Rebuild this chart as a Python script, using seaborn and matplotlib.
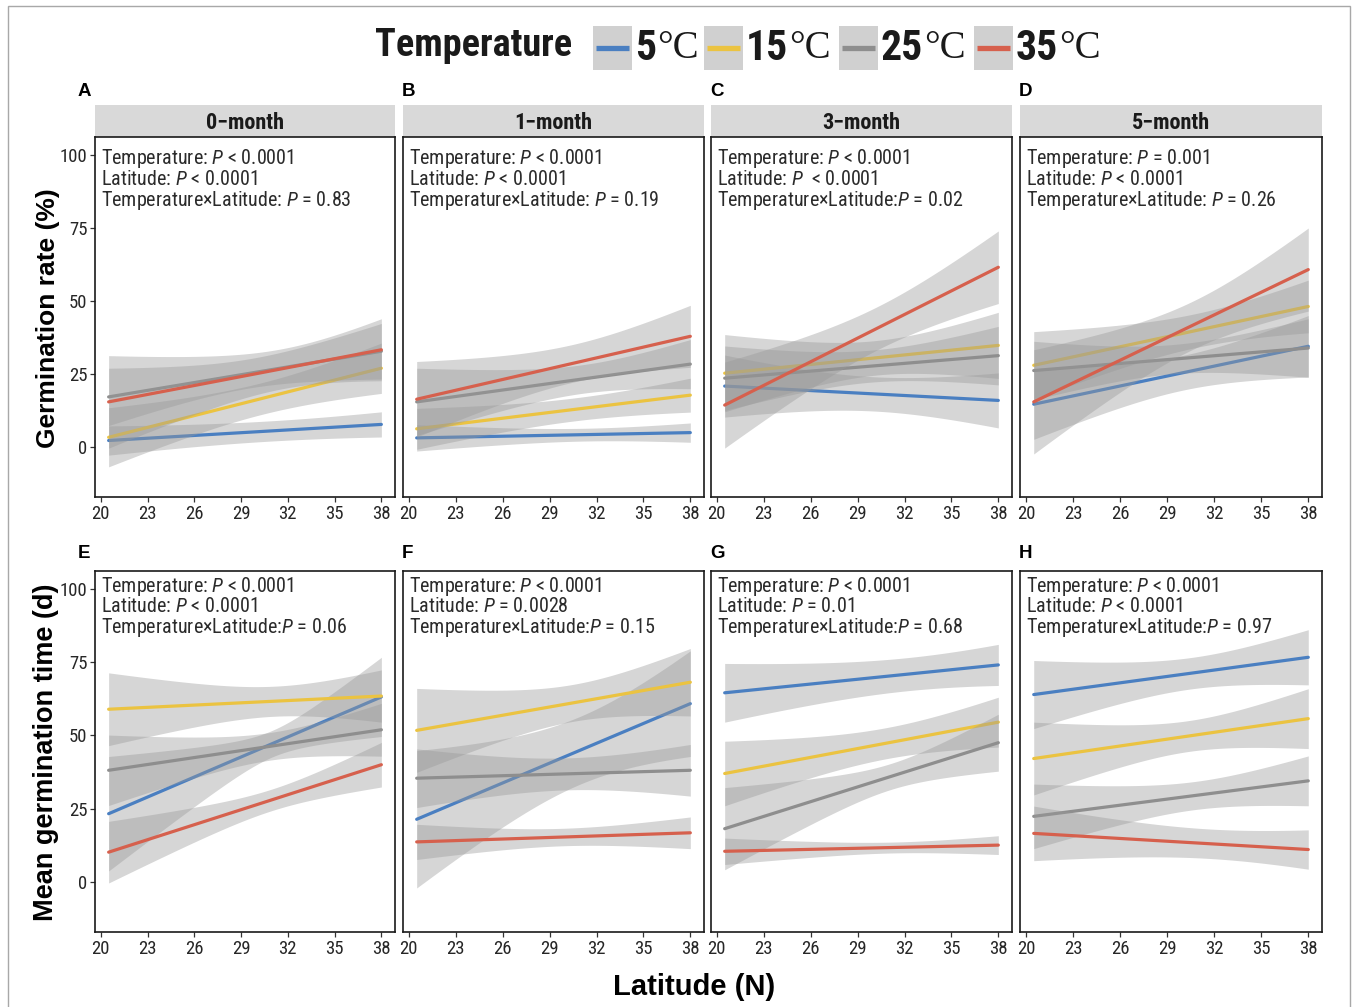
import numpy as np
import pandas as pd
import seaborn as sns
import matplotlib
matplotlib.use("Agg")
import matplotlib.pyplot as plt
from matplotlib.patches import Rectangle
from matplotlib.lines import Line2D
from matplotlib import font_manager as fm

# ---------------- data ----------------
months = ["0\u2212month", "1\u2212month", "3\u2212month", "5\u2212month"]
temps = ["5", "15", "25", "35"]
temp_colors = ["#4A7FC1", "#EBC341", "#8E8E8E", "#D6604D"]
panel_letters_top = ["A", "B", "C", "D"]
panel_letters_bot = ["E", "F", "G", "H"]
lat_min, lat_max = 20.5, 38.0
x_ticks = [20, 23, 26, 29, 32, 35, 38]
y_ticks = [0, 25, 50, 75, 100]

# Germination rate (%) : rows = month, cols = temperature (5,15,25,35)
rate_start = [[2.3, 3.4, 17.2, 15.5], [3.2, 6.3, 15.5, 16.4],
              [20.9, 25.3, 23.6, 14.4], [14.7, 28.0, 26.2, 15.5]]
rate_end = [[7.8, 27.0, 32.8, 33.3], [5.0, 17.8, 28.4, 37.9],
            [16.0, 34.8, 31.3, 61.5], [34.5, 48.1, 33.9, 60.7]]
rate_hw_start = [[5.0, 10.1, 9.8, 15.8], [4.5, 7.0, 11.5, 12.9],
                 [10.6, 13.2, 11.0, 14.7], [12.0, 11.5, 10.0, 17.8]]
rate_hw_mid = [[3.5, 5.5, 5.0, 7.5], [2.3, 4.0, 5.2, 6.6],
               [5.9, 6.0, 5.5, 7.5], [6.0, 6.0, 5.0, 8.5]]
rate_hw_end = [[4.3, 8.6, 9.5, 10.6], [3.3, 5.8, 8.4, 10.6],
               [9.4, 11.3, 10.0, 12.4], [10.5, 9.0, 10.0, 14.2]]

# Mean germination time (d)
time_start = [[23.3, 58.9, 38.1, 10.2], [21.4, 51.7, 35.4, 13.7],
              [64.5, 37.0, 18.2, 10.5], [63.9, 42.1, 22.4, 16.6]]
time_end = [[63.1, 63.4, 51.9, 40.0], [60.8, 68.1, 38.1, 16.8],
            [74.0, 54.5, 47.5, 12.6], [76.6, 55.7, 34.5, 11.1]]
time_hw_start = [[19.5, 12.4, 12.0, 10.5], [23.4, 14.3, 10.0, 6.0],
                 [10.0, 11.0, 14.0, 4.5], [11.6, 12.4, 11.0, 9.3]]
time_hw_mid = [[5.5, 5.5, 5.0, 4.0], [12.0, 6.5, 5.5, 3.0],
               [6.0, 5.5, 5.0, 2.0], [5.5, 5.4, 5.0, 5.3]]
time_hw_end = [[13.5, 8.9, 9.0, 7.6], [18.0, 11.5, 8.8, 5.4],
               [7.0, 8.5, 9.7, 3.2], [9.4, 10.2, 8.5, 6.7]]

rate_stats = [
    ["Temperature: $P$ < 0.0001", "Latitude: $P$ < 0.0001", "Temperature\u00d7Latitude: $P$ = 0.83"],
    ["Temperature: $P$ < 0.0001", "Latitude: $P$ < 0.0001", "Temperature\u00d7Latitude: $P$ = 0.19"],
    ["Temperature: $P$ < 0.0001", "Latitude: $P$  < 0.0001", "Temperature\u00d7Latitude:$P$ = 0.02"],
    ["Temperature: $P$ = 0.001", "Latitude: $P$ < 0.0001", "Temperature\u00d7Latitude: $P$ = 0.26"],
]
time_stats = [
    ["Temperature: $P$ < 0.0001", "Latitude: $P$ < 0.0001", "Temperature\u00d7Latitude:$P$ = 0.06"],
    ["Temperature: $P$ < 0.0001", "Latitude: $P$ = 0.0028", "Temperature\u00d7Latitude:$P$ = 0.15"],
    ["Temperature: $P$ < 0.0001", "Latitude: $P$ = 0.01", "Temperature\u00d7Latitude:$P$ = 0.68"],
    ["Temperature: $P$ < 0.0001", "Latitude: $P$ < 0.0001", "Temperature\u00d7Latitude:$P$ = 0.97"],
]

# ---------------- style ----------------
sns.set_theme(style="white")
names = {f.name for f in fm.fontManager.ttflist}
NARROW = "Liberation Sans"
for cand in ["Liberation Sans Narrow", "Roboto Condensed", "Open Sans Condensed"]:
    if cand in names:
        NARROW = cand
        break
IS_NARROW = NARROW != "Liberation Sans"
plt.rcParams["font.family"] = [NARROW, "DejaVu Sans"]
plt.rcParams["mathtext.fontset"] = "custom"
plt.rcParams["mathtext.rm"] = NARROW
plt.rcParams["mathtext.it"] = NARROW + ":italic"

fs_stats = 14.5 if IS_NARROW else 13
fs_tick = 13.5 if IS_NARROW else 11.5
fs_strip = 16 if IS_NARROW else 14
fs_title = 27.5 if IS_NARROW else 23.5

W, H = 1356, 1007
fig = plt.figure(figsize=(W / 100, H / 100), dpi=100)
fig.patch.set_facecolor("white")


def fbox(l, t, r, b):
    return [l / W, 1 - b / H, (r - l) / W, (b - t) / H]


cols_px = [(95, 395), (403, 704), (711, 1012), (1020, 1322)]
rows_px = [(137, 497), (571, 932)]
letter_x = [78, 402, 710, 1019]
letter_y = [91, 554]

# tidy frame of fitted lines
recs = []
for r, (st, en) in enumerate([(rate_start, rate_end), (time_start, time_end)]):
    for m in range(4):
        for t in range(4):
            recs.append(dict(row=r, month=months[m], temp=temps[t], lat=lat_min, value=st[m][t]))
            recs.append(dict(row=r, month=months[m], temp=temps[t], lat=lat_max, value=en[m][t]))
lines_df = pd.DataFrame(recs)

hw_sets = [(rate_hw_start, rate_hw_mid, rate_hw_end), (time_hw_start, time_hw_mid, time_hw_end)]
stats_sets = [rate_stats, time_stats]
grid = np.linspace(lat_min, lat_max, 120)
tt = (grid - lat_min) / (lat_max - lat_min)

for r, (top, bot) in enumerate(rows_px):
    for c, (left, right) in enumerate(cols_px):
        ax = fig.add_axes(fbox(left, top, right, bot))
        ax.set_facecolor("white")
        hs, hm, he = hw_sets[r]
        for t in range(4):
            sub = lines_df[(lines_df.row == r) & (lines_df.month == months[c]) & (lines_df.temp == temps[t])]
            yfit = np.interp(grid, sub.lat.values, sub.value.values)
            # confidence band of a linear fit: half-width^2 is quadratic in latitude
            a0, am, a1 = hs[c][t] ** 2, hm[c][t] ** 2, he[c][t] ** 2
            q = a0 * (2 * tt - 1) * (tt - 1) - am * 4 * tt * (tt - 1) + a1 * tt * (2 * tt - 1)
            hw = np.sqrt(np.maximum(q, 0))
            ax.fill_between(grid, yfit - hw, yfit + hw, color="#999999", alpha=0.4,
                            linewidth=0, zorder=2 + 2 * t)
            sns.lineplot(data=sub, x="lat", y="value", color=temp_colors[t], linewidth=2.3,
                         ax=ax, legend=False, estimator=None, zorder=3 + 2 * t)
        ax.set_xlim(19.625, 38.875)
        ax.set_ylim(-17, 106)
        ax.set_xticks(x_ticks)
        ax.set_xticklabels([str(v) for v in x_ticks])
        ax.set_xlabel("")
        ax.set_ylabel("")
        if c == 0:
            ax.set_yticks(y_ticks)
            ax.set_yticklabels([str(v) for v in y_ticks])
        else:
            ax.set_yticks([])
        for s in ax.spines.values():
            s.set_color("#1A1A1A")
            s.set_linewidth(1.2)
        ax.tick_params(axis="both", direction="out", length=3.5, width=0.9, color="#333333",
                       labelsize=fs_tick, labelcolor="#262626", pad=2, bottom=True, left=(c == 0))
        # statistics annotation
        h = bot - top
        first = (159 - top) if r == 0 else (586 - top)
        for i, line in enumerate(stats_sets[r][c]):
            ypx = first + i * 20.8
            ax.text(6 / (right - left), 1 - ypx / h, line, transform=ax.transAxes,
                    ha="left", va="center", fontsize=fs_stats, color="#2B2B2B", zorder=20)
        # strip on top row
        if r == 0:
            sh = 32 / h
            ax.add_patch(Rectangle((0, 1), 1, sh, transform=ax.transAxes, clip_on=False,
                                   facecolor="#D9D9D9", edgecolor="none", zorder=1))
            ax.text(0.5, 1 + sh / 2 - 2 / h, months[c], transform=ax.transAxes, ha="center",
                    va="center", fontsize=fs_strip, fontweight="bold", color="#1A1A1A")
        letters = panel_letters_top if r == 0 else panel_letters_bot
        fig.text(letter_x[c] / W, 1 - letter_y[r] / H, letters[c], ha="left", va="center",
                 fontsize=13.5, fontweight="bold", family="Liberation Sans", color="black")

# axis titles
fig.text(48 / W, 1 - 318 / H, "Germination rate (%)", rotation=90, ha="center", va="center",
         fontsize=19, fontweight="bold", family="Liberation Sans", color="black")
fig.text(46 / W, 1 - 752 / H, "Mean germination time (d)", rotation=90, ha="center", va="center",
         fontsize=19.5, fontweight="bold", family="Liberation Sans", color="black")
fig.text(694 / W, 1 - 987 / H, "Latitude (N)", ha="center", va="center",
         fontsize=21, fontweight="bold", family="Liberation Sans", color="black")

# legend (drawn by hand, ggplot style)
fig.text(375 / W, 1 - 45 / H, "Temperature", ha="left", va="center",
         fontsize=fs_title, fontweight="bold", color="#1A1A1A")
key_left = [593, 704, 839, 974]
renderer = fig.canvas.get_renderer()
for k in range(4):
    x0 = key_left[k]
    fig.add_artist(Rectangle((x0 / W, 1 - 70 / H), 39 / W, 44 / H, transform=fig.transFigure,
                             facecolor="#D0D0D0", edgecolor="none"))
    fig.add_artist(Line2D([(x0 + 3) / W, (x0 + 36) / W], [1 - 48 / H, 1 - 48 / H],
                          transform=fig.transFigure, color=temp_colors[k], linewidth=3.8,
                          solid_capstyle="butt"))
    tnum = fig.text((x0 + 42) / W, 1 - 48 / H, temps[k], ha="left", va="center",
                    fontsize=30, fontweight="bold", color="#1A1A1A")
    bb = tnum.get_window_extent(renderer=renderer)
    fig.text(bb.x1 / W + 1 / W, 1 - 48 / H, "\u00b0C", ha="left", va="center", fontsize=28,
             family="Liberation Serif", color="#1A1A1A")

# outer frame
fig.add_artist(Rectangle((8 / W, -5 / H), (1350 - 8) / W, (1007 - 6 + 5) / H,
                         transform=fig.transFigure, facecolor="none", edgecolor="#A8A8A8",
                         linewidth=1.0))

fig.savefig("out.png", dpi=100)
